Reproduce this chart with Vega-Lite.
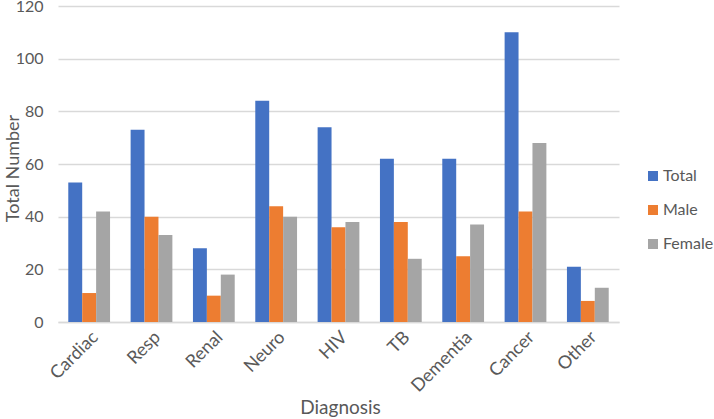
{
  "$schema": "https://vega.github.io/schema/vega-lite/v6.json",
  "width": 561,
  "height": 316,
  "autosize": {"type": "none"},
  "padding": {"left": 58, "top": 6, "right": 95, "bottom": 97},
  "background": "white",
  "config": {
    "font": "Lato",
    "view": {"stroke": null},
    "axis": {"labelColor": "#595959", "titleColor": "#595959", "titleFontWeight": "normal", "labelFont": "Lato", "titleFont": "Lato"},
    "legend": {"labelColor": "#595959", "labelFont": "Lato"}
  },
  "data": {
    "values": [
      {"diagnosis": "Cardiac", "group": "Total", "value": 53},
      {"diagnosis": "Cardiac", "group": "Male", "value": 11},
      {"diagnosis": "Cardiac", "group": "Female", "value": 42},
      {"diagnosis": "Resp", "group": "Total", "value": 73},
      {"diagnosis": "Resp", "group": "Male", "value": 40},
      {"diagnosis": "Resp", "group": "Female", "value": 33},
      {"diagnosis": "Renal", "group": "Total", "value": 28},
      {"diagnosis": "Renal", "group": "Male", "value": 10},
      {"diagnosis": "Renal", "group": "Female", "value": 18},
      {"diagnosis": "Neuro", "group": "Total", "value": 84},
      {"diagnosis": "Neuro", "group": "Male", "value": 44},
      {"diagnosis": "Neuro", "group": "Female", "value": 40},
      {"diagnosis": "HIV", "group": "Total", "value": 74},
      {"diagnosis": "HIV", "group": "Male", "value": 36},
      {"diagnosis": "HIV", "group": "Female", "value": 38},
      {"diagnosis": "TB", "group": "Total", "value": 62},
      {"diagnosis": "TB", "group": "Male", "value": 38},
      {"diagnosis": "TB", "group": "Female", "value": 24},
      {"diagnosis": "Dementia", "group": "Total", "value": 62},
      {"diagnosis": "Dementia", "group": "Male", "value": 25},
      {"diagnosis": "Dementia", "group": "Female", "value": 37},
      {"diagnosis": "Cancer", "group": "Total", "value": 110},
      {"diagnosis": "Cancer", "group": "Male", "value": 42},
      {"diagnosis": "Cancer", "group": "Female", "value": 68},
      {"diagnosis": "Other", "group": "Total", "value": 21},
      {"diagnosis": "Other", "group": "Male", "value": 8},
      {"diagnosis": "Other", "group": "Female", "value": 13}
    ]
  },
  "mark": {"type": "bar"},
  "encoding": {
    "x": {
      "field": "diagnosis", "type": "nominal",
      "sort": ["Cardiac", "Resp", "Renal", "Neuro", "HIV", "TB", "Dementia", "Cancer", "Other"],
      "scale": {"paddingInner": 0.33, "paddingOuter": 0.165},
      "axis": {"title": "Diagnosis", "labelAngle": -45, "labelFontSize": 18, "titleFontSize": 19, "ticks": false, "domainColor": "#d9d9d9", "domainWidth": 1.5, "labelPadding": 6, "titleX": 282, "titleY": 85, "titleBaseline": "middle", "titleAlign": "center"}
    },
    "xOffset": {
      "field": "group", "type": "nominal",
      "sort": ["Total", "Male", "Female"],
      "scale": {"paddingInner": 0, "paddingOuter": 0}
    },
    "y": {
      "field": "value", "type": "quantitative",
      "scale": {"domain": [0, 120]},
      "axis": {"title": "Total Number", "values": [0, 20, 40, 60, 80, 100, 120], "labelFontSize": 16, "titleFontSize": 18, "ticks": false, "domain": false, "gridColor": "#d9d9d9", "gridWidth": 1.5, "labelPadding": 15, "titleX": -45, "titleY": 162, "titleAngle": -90, "titleBaseline": "middle", "titleAlign": "center"}
    },
    "color": {
      "field": "group", "type": "nominal",
      "sort": ["Total", "Male", "Female"],
      "scale": {"domain": ["Total", "Male", "Female"], "range": ["#4472C4", "#ED7D31", "#A5A5A5"]},
      "legend": {"title": null, "orient": "none", "legendX": 587, "legendY": 162, "symbolType": "square", "symbolSize": 100, "symbolStrokeWidth": 0, "labelFontSize": 16, "rowPadding": 18, "labelOffset": 2}
    }
  }
}
